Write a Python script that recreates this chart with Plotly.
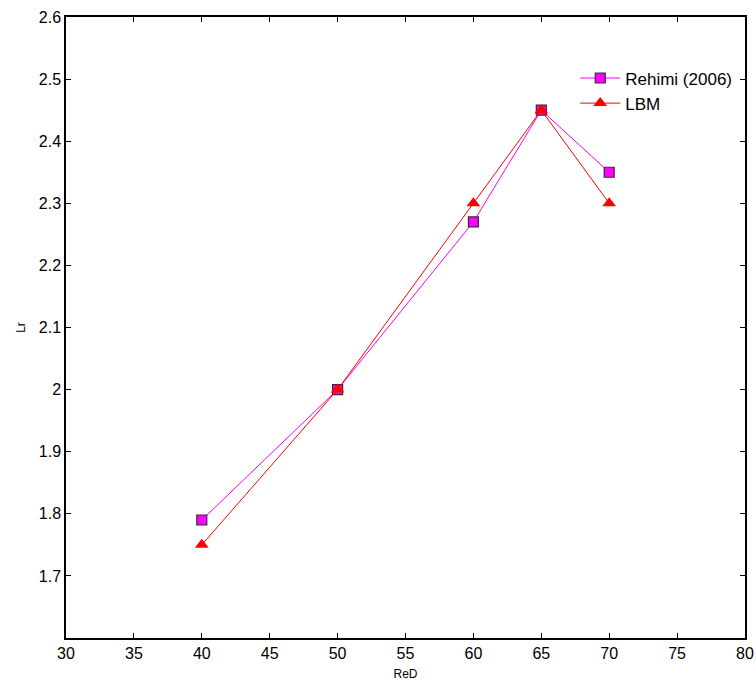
import plotly.graph_objects as go

re_d = [40, 50, 60, 65, 70]
rehimi_lr = [1.79, 2.00, 2.27, 2.45, 2.35]
lbm_lr = [1.75, 2.00, 2.30, 2.45, 2.30]
x_ticks = [30, 35, 40, 45, 50, 55, 60, 65, 70, 75, 80]
y_ticks = [1.7, 1.8, 1.9, 2.0, 2.1, 2.2, 2.3, 2.4, 2.5, 2.6]
y_tick_text = ["1.7", "1.8", "1.9", "2", "2.1", "2.2", "2.3", "2.4", "2.5", "2.6"]

FONT = "Liberation Sans, Arial"

fig = go.Figure()
fig.add_trace(go.Scatter(
    x=re_d, y=rehimi_lr, mode="lines+markers", name="Rehimi (2006)",
    line=dict(color="#ff00ff", width=1),
    marker=dict(symbol="square", size=10, color="#ff00ff",
                line=dict(color="#3a2a3a", width=1.2)),
))
fig.add_trace(go.Scatter(
    x=re_d, y=lbm_lr, mode="lines+markers", name="LBM",
    line=dict(color="#ff0000", width=1),
    marker=dict(symbol="triangle-up", size=12, color="#ff0000",
                line=dict(color="#ff0000", width=0)),
))

axis_common = dict(
    showgrid=False, zeroline=False, showline=True, linecolor="black",
    linewidth=1.5, mirror="allticks", ticks="inside", ticklen=5,
    tickcolor="black", automargin=False,
    tickfont=dict(family=FONT, size=16, color="black"),
)
fig.update_xaxes(range=[30, 80], tickvals=x_ticks,
                 title=dict(text="ReD", font=dict(family=FONT, size=12, color="black"), standoff=9),
                 **axis_common)
fig.update_yaxes(range=[1.6, 2.6], tickvals=y_ticks, ticktext=y_tick_text,
                 title=dict(text="Lr", font=dict(family=FONT, size=12, color="black"), standoff=11),
                 **axis_common)

fig.update_layout(
    width=756, height=681,
    margin=dict(l=66, r=11, t=17, b=43),
    paper_bgcolor="white", plot_bgcolor="white",
    showlegend=True,
    legend=dict(x=0.75, y=0.93, xanchor="left", yanchor="top",
                bgcolor="rgba(0,0,0,0)", borderwidth=0,
                font=dict(family=FONT, size=17, color="black"),
                tracegroupgap=0, itemwidth=40),
)

fig.write_html(
    "out.html",
    config={"displayModeBar": False},
    post_script="document.body.style.margin='0';document.body.style.overflow='hidden';",
)
